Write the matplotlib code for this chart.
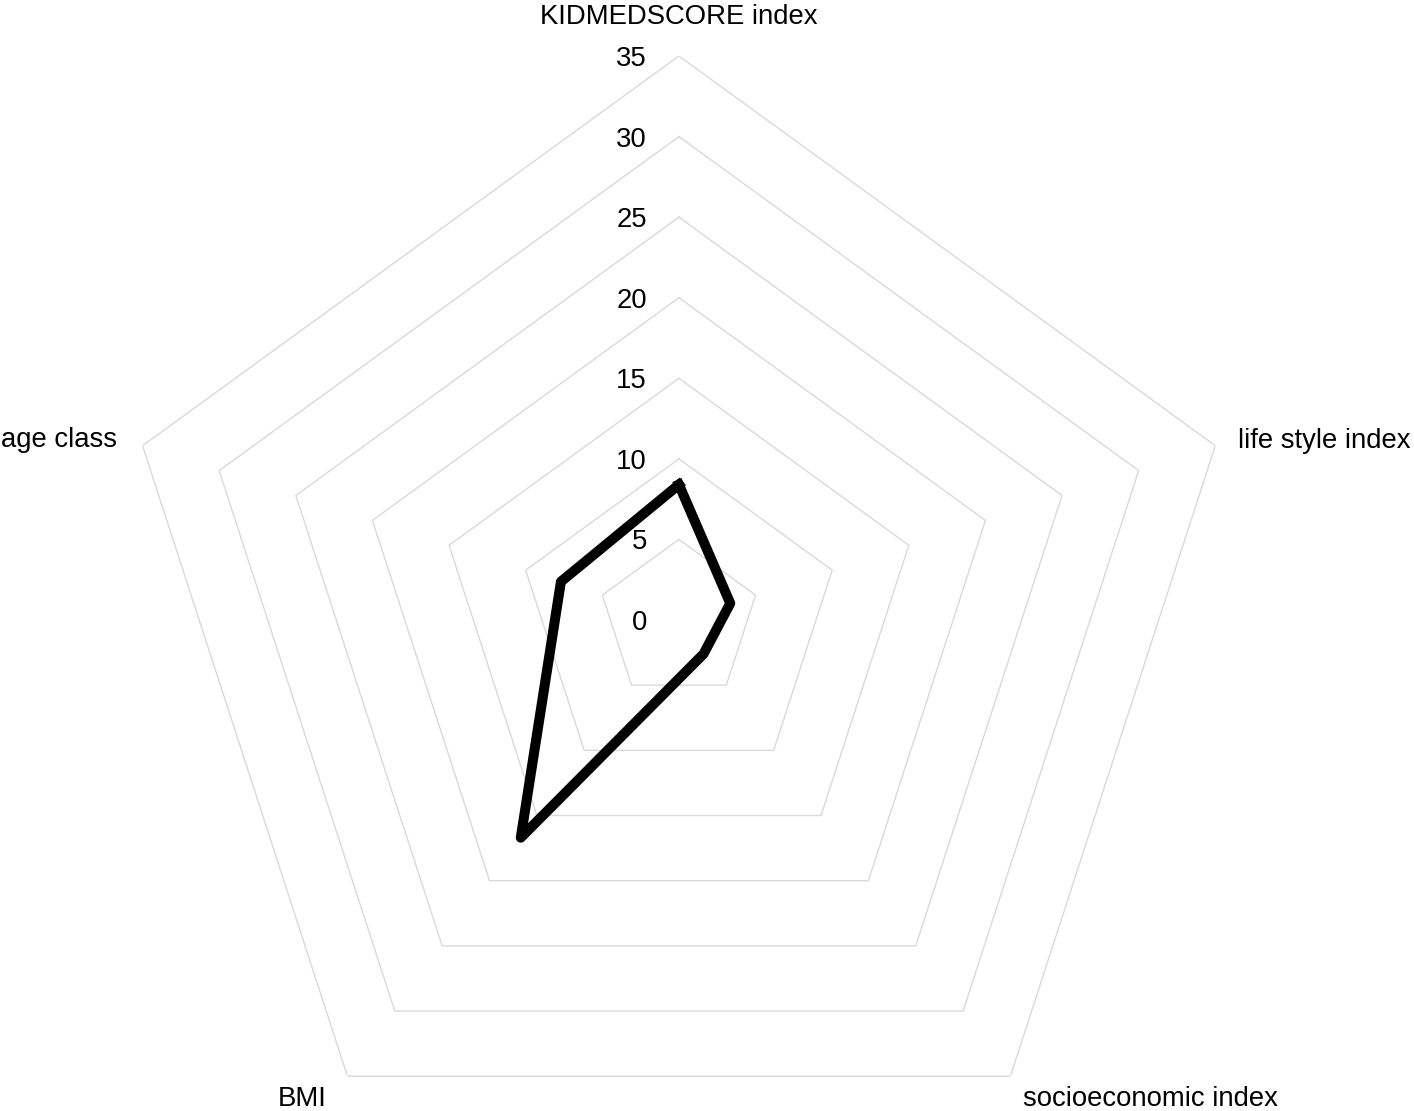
import numpy as np
import matplotlib.pyplot as plt

plt.rcParams['font.family'] = ['Liberation Sans', 'DejaVu Sans']

categories = ['KIDMEDSCORE index', 'life style index', 'socioeconomic index', 'BMI', 'age class']
values = [8.4, 3.35, 2.6, 16.7, 7.7]
ring_ticks = [0, 5, 10, 15, 20, 25, 30, 35]

fig = plt.figure(figsize=(14.14, 11.11), dpi=100)
ax = fig.add_axes([0.0813, -0.0657, 0.7977, 1.0153], projection='polar')
ax.set_theta_offset(np.pi / 2)
ax.set_theta_direction(-1)
ax.set_ylim(0, 35)
ax.grid(False)
ax.set_xticks([])
ax.set_yticks([])
ax.spines['polar'].set_visible(False)
ax.patch.set_visible(False)

n = len(categories)
angles = np.linspace(0, 2 * np.pi, n, endpoint=False)
closed = np.append(angles, angles[0])

# pentagon grid
for r in ring_ticks[1:]:
    ax.plot(closed, [r] * (n + 1), color='#d9d9d9', lw=1.0, zorder=1)

# radial tick labels
for r in ring_ticks:
    ax.annotate(str(r), xy=(0, r), xytext=(-32, -3), textcoords='offset pixels',
                ha='right', va='center', fontsize=19.8, color='black')

# category labels
offsets = [(0, 39, 'center'), (23, 5, 'left'), (13, -23, 'left'), (-21, -23, 'right'), (-26, 6, 'right')]
for ang, lab, (dx, dy, ha) in zip(angles, categories, offsets):
    ax.annotate(lab, xy=(ang, 35), xytext=(dx, dy), textcoords='offset pixels',
                ha=ha, va='center', fontsize=19.8, color='black')

vals = values + values[:1]
ax.plot(closed, vals, color='black', lw=7.2, solid_joinstyle='round', zorder=3)

fig.savefig('out.png', dpi=100)
